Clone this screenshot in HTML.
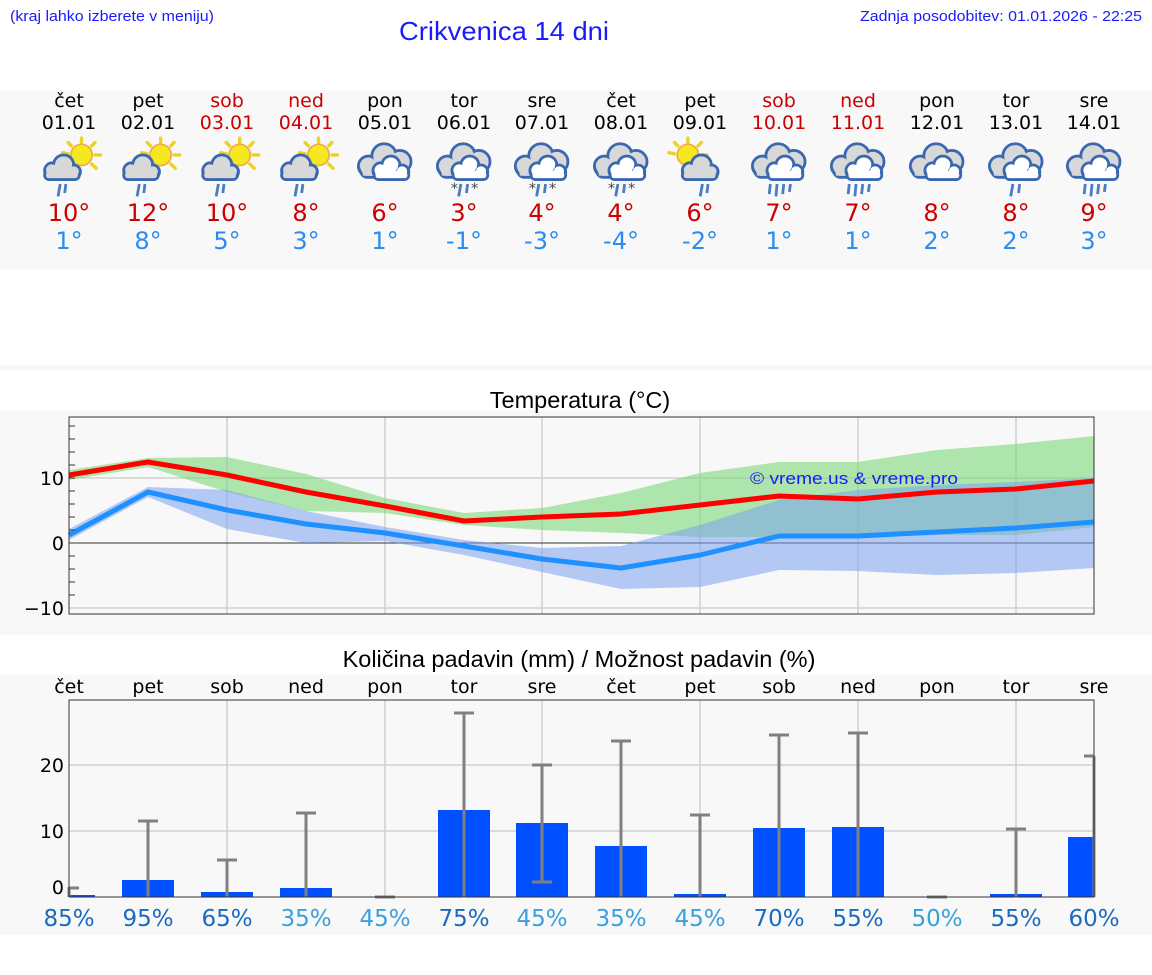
<!DOCTYPE html>
<html><head><meta charset="utf-8"><style>
html,body{margin:0;padding:0;background:#fff;width:1152px;height:975px;overflow:hidden}
svg{display:block}
</style></head><body>
<svg width="1152" height="975" viewBox="0 0 1152 975" xmlns="http://www.w3.org/2000/svg" font-family="'DejaVu Sans', 'Liberation Sans', sans-serif">
<defs>
<g id="sun">
<g stroke="#f0d020" stroke-width="3" stroke-linecap="round">
<line x1="38" y1="1" x2="38" y2="6"/><line x1="50" y1="5" x2="47" y2="8"/><line x1="55" y1="16" x2="50" y2="16"/><line x1="51" y1="28" x2="47" y2="24"/><line x1="26" y1="5" x2="29" y2="8"/><line x1="21" y1="14" x2="26" y2="15"/>
</g>
<circle cx="38" cy="16" r="9.5" fill="#f5e81e" stroke="#f0a850" stroke-width="1.5"/>
</g>
<g id="smallcloud">
<g fill="#d8d8d8" stroke="#3a68b0" stroke-width="2.5">
<circle cx="12" cy="30" r="7"/><circle cx="22" cy="25" r="9"/><circle cx="31" cy="31" r="6"/><rect x="5" y="30" width="31" height="8" rx="4"/>
</g>
<g fill="#d8d8d8"><circle cx="12" cy="30" r="5.5"/><circle cx="22" cy="25" r="7.5"/><circle cx="31" cy="31" r="4.5"/><rect x="7" y="30" width="27" height="6.5"/></g>
</g>
<g id="dcloud">
<g fill="#d8d8d8" stroke="#3a68b0" stroke-width="2.5">
<circle cx="12" cy="26" r="9"/><circle cx="26" cy="17" r="11"/><circle cx="40" cy="22" r="10"/><rect x="5" y="24" width="42" height="12" rx="6"/>
</g>
<g fill="#d8d8d8"><circle cx="12" cy="26" r="7.5"/><circle cx="26" cy="17" r="9.5"/><circle cx="40" cy="22" r="8.5"/><rect x="7" y="25" width="38" height="9.5"/></g>
<g fill="#fff" stroke="#3a68b0" stroke-width="2.5">
<circle cx="23" cy="30" r="7"/><circle cx="32" cy="25" r="8"/><circle cx="42" cy="31" r="6"/><rect x="17" y="30" width="31" height="8" rx="4"/>
</g>
<g fill="#fff"><circle cx="23" cy="30" r="5.5"/><circle cx="32" cy="25" r="6.5"/><circle cx="42" cy="31" r="4.5"/><rect x="19" y="30" width="27" height="6.5"/></g>
</g>
<g id="r2" stroke="#4a7cc4" stroke-width="2.5"><line x1="24" y1="42" x2="22" y2="53"/><line x1="30" y1="42" x2="29" y2="50"/></g>
<g id="r4" stroke="#4a7cc4" stroke-width="2.5"><line x1="19" y1="42" x2="18" y2="51"/><line x1="25" y1="42" x2="24" y2="53"/><line x1="31" y1="42" x2="30" y2="51"/><line x1="37" y1="42" x2="36" y2="49"/></g>
<g id="i_sr"><use href="#sun"/><use href="#smallcloud"/><g stroke="#4a7cc4" stroke-width="2.5"><line x1="19" y1="42" x2="17" y2="53"/><line x1="24" y1="42" x2="23" y2="50"/></g></g>
<g id="i_c"><use href="#dcloud"/></g>
<g id="i_sl"><use href="#dcloud"/><use href="#r2"/><text x="15" y="50" font-size="13" fill="#444">*</text><text x="33" y="50" font-size="13" fill="#444">*</text></g>
<g id="i_r4"><use href="#dcloud"/><use href="#r4"/></g>
<g id="i_r2"><use href="#dcloud"/><use href="#r2"/></g>
<g id="i_sc"><use href="#sun" transform="translate(-22,0)"/><g transform="translate(6,0)"><use href="#smallcloud"/></g><g stroke="#4a7cc4" stroke-width="2.5"><line x1="29" y1="42" x2="27" y2="53"/><line x1="34" y1="42" x2="33" y2="50"/></g></g>
</defs>

<g font-family="'Liberation Sans', sans-serif">
<text x="10" y="21" font-size="15" fill="#1a1aff" textLength="204" lengthAdjust="spacingAndGlyphs">(kraj lahko izberete v meniju)</text>
<text x="399" y="40" font-size="26" fill="#1a1aff" textLength="210" lengthAdjust="spacingAndGlyphs">Crikvenica 14 dni</text>
<text x="1142" y="21" font-size="15" fill="#1a1aff" text-anchor="end" textLength="282" lengthAdjust="spacingAndGlyphs">Zadnja posodobitev: 01.01.2026 - 22:25</text>
</g>

<rect x="0" y="90" width="1152" height="180" fill="#f8f8f8"/>
<rect x="0" y="365" width="1152" height="5" fill="#f8f8f8"/>
<rect x="0" y="410" width="1152" height="225" fill="#f8f8f8"/>
<rect x="0" y="675" width="1152" height="260" fill="#f8f8f8"/>

<g font-size="19" text-anchor="middle">
<g fill="#000">
<text x="69" y="107">čet</text><text x="69" y="129">01.01</text>
<text x="148" y="107">pet</text><text x="148" y="129">02.01</text>
<text x="385" y="107">pon</text><text x="385" y="129">05.01</text>
<text x="464" y="107">tor</text><text x="464" y="129">06.01</text>
<text x="542" y="107">sre</text><text x="542" y="129">07.01</text>
<text x="621" y="107">čet</text><text x="621" y="129">08.01</text>
<text x="700" y="107">pet</text><text x="700" y="129">09.01</text>
<text x="937" y="107">pon</text><text x="937" y="129">12.01</text>
<text x="1016" y="107">tor</text><text x="1016" y="129">13.01</text>
<text x="1094" y="107">sre</text><text x="1094" y="129">14.01</text>
</g>
<g fill="#cc0000">
<text x="227" y="107">sob</text><text x="227" y="129">03.01</text>
<text x="306" y="107">ned</text><text x="306" y="129">04.01</text>
<text x="779" y="107">sob</text><text x="779" y="129">10.01</text>
<text x="858" y="107">ned</text><text x="858" y="129">11.01</text>
</g>
</g>

<g transform="translate(0,137) scale(1.12)">
<use href="#i_sr" x="34.8"/><use href="#i_sr" x="105.4"/><use href="#i_sr" x="176"/><use href="#i_sr" x="246.4"/>
<use href="#i_c" x="317"/><use href="#i_sl" x="387.5"/><use href="#i_sl" x="457.1"/><use href="#i_sl" x="527.7"/>
<use href="#i_sc" x="598.2"/><use href="#i_r4" x="668.8"/><use href="#i_r4" x="739.3"/><use href="#i_c" x="809.8"/>
<use href="#i_r2" x="880.4"/><use href="#i_r4" x="950"/>
</g>

<g font-size="24" text-anchor="middle" fill="#cc0000">
<text x="69" y="221">10°</text><text x="148" y="221">12°</text><text x="227" y="221">10°</text><text x="306" y="221">8°</text><text x="385" y="221">6°</text><text x="464" y="221">3°</text><text x="542" y="221">4°</text><text x="621" y="221">4°</text><text x="700" y="221">6°</text><text x="779" y="221">7°</text><text x="858" y="221">7°</text><text x="937" y="221">8°</text><text x="1016" y="221">8°</text><text x="1094" y="221">9°</text>
</g>
<g font-size="24" text-anchor="middle" fill="#2a8cf0">
<text x="69" y="249">1°</text><text x="148" y="249">8°</text><text x="227" y="249">5°</text><text x="306" y="249">3°</text><text x="385" y="249">1°</text><text x="464" y="249">-1°</text><text x="542" y="249">-3°</text><text x="621" y="249">-4°</text><text x="700" y="249">-2°</text><text x="779" y="249">1°</text><text x="858" y="249">1°</text><text x="937" y="249">2°</text><text x="1016" y="249">2°</text><text x="1094" y="249">3°</text>
</g>

<text x="580" y="408" font-size="23.5" text-anchor="middle" fill="#000" font-family="'Liberation Sans', sans-serif">Temperatura (°C)</text>
<g stroke="#d0d0d0" stroke-width="1.5">
<line x1="227" y1="417" x2="227" y2="614"/><line x1="385" y1="417" x2="385" y2="614"/><line x1="542" y1="417" x2="542" y2="614"/><line x1="700" y1="417" x2="700" y2="614"/><line x1="858" y1="417" x2="858" y2="614"/><line x1="1016" y1="417" x2="1016" y2="614"/>
<line x1="69" y1="478" x2="1094" y2="478"/><line x1="69" y1="608" x2="1094" y2="608"/>
</g>
<line x1="69" y1="543" x2="1094" y2="543" stroke="#333" stroke-width="1"/>
<polygon fill="#7cd87c" fill-opacity="0.6" points="69,470 148,458 227,457 306,474 385,498 464,513 542,508 621,493 700,473 779,462 858,462 937,450 1016,444 1094,436 1094,527 1016,535 937,535 858,537 779,537 700,537 621,533 542,530 464,525 385,513 306,511 227,492 148,467 69,480"/>
<polygon fill="#7aa2ee" fill-opacity="0.55" points="69,529 148,487 227,490 306,511 385,527 464,540 542,548 621,546 700,525 779,500 858,490 937,485 1016,482 1094,478 1094,568 1016,573 937,575 858,571 779,570 700,587 621,589 542,572 464,555 385,541 306,543 227,529 148,497 69,540"/>
<polyline fill="none" stroke="#ff0000" stroke-width="5" stroke-linejoin="round" points="69,475 148,462 227,475 306,492 385,506 464,521 542,517 621,514 700,505 779,496 858,499 937,492 1016,489 1094,481"/>
<polyline fill="none" stroke="#1e90ff" stroke-width="5" stroke-linejoin="round" points="69,535 148,492 227,510 306,524 385,533 464,546 542,559 621,568 700,555 779,536 858,536 937,532 1016,528 1094,522"/>
<text x="750" y="484" font-size="17" fill="#1a1aff" font-family="'Liberation Sans', sans-serif" textLength="208" lengthAdjust="spacingAndGlyphs">© vreme.us &amp; vreme.pro</text>
<rect x="69" y="417" width="1025" height="197" fill="none" stroke="#333" stroke-width="1"/>
<g stroke="#333" stroke-width="1">
<line x1="69" y1="426" x2="75" y2="426"/><line x1="69" y1="439" x2="75" y2="439"/><line x1="69" y1="452" x2="75" y2="452"/><line x1="69" y1="465" x2="75" y2="465"/><line x1="69" y1="478" x2="75" y2="478"/><line x1="69" y1="491" x2="75" y2="491"/><line x1="69" y1="504" x2="75" y2="504"/><line x1="69" y1="517" x2="75" y2="517"/><line x1="69" y1="530" x2="75" y2="530"/><line x1="69" y1="556" x2="75" y2="556"/><line x1="69" y1="569" x2="75" y2="569"/><line x1="69" y1="582" x2="75" y2="582"/><line x1="69" y1="595" x2="75" y2="595"/>
</g>
<g font-size="19" text-anchor="end" fill="#000">
<text x="64" y="485">10</text><text x="64" y="550">0</text><text x="64" y="615">−10</text>
</g>

<text x="579" y="667" font-size="23.5" text-anchor="middle" fill="#000" font-family="'Liberation Sans', sans-serif">Količina padavin (mm) / Možnost padavin (%)</text>
<g font-size="19" text-anchor="middle" fill="#000">
<text x="69" y="693">čet</text><text x="148" y="693">pet</text><text x="227" y="693">sob</text><text x="306" y="693">ned</text><text x="385" y="693">pon</text><text x="464" y="693">tor</text><text x="542" y="693">sre</text><text x="621" y="693">čet</text><text x="700" y="693">pet</text><text x="779" y="693">sob</text><text x="858" y="693">ned</text><text x="937" y="693">pon</text><text x="1016" y="693">tor</text><text x="1094" y="693">sre</text>
</g>
<g stroke="#d0d0d0" stroke-width="1.5">
<line x1="227" y1="700" x2="227" y2="897"/><line x1="385" y1="700" x2="385" y2="897"/><line x1="542" y1="700" x2="542" y2="897"/><line x1="700" y1="700" x2="700" y2="897"/><line x1="858" y1="700" x2="858" y2="897"/><line x1="1016" y1="700" x2="1016" y2="897"/>
<line x1="69" y1="765" x2="1094" y2="765"/><line x1="69" y1="831" x2="1094" y2="831"/>
</g>
<g fill="#0050ff">
<rect x="70" y="895" width="25" height="2"/>
<rect x="122" y="880" width="52" height="17"/>
<rect x="201" y="892" width="52" height="5"/>
<rect x="280" y="888" width="52" height="9"/>
<rect x="438" y="810" width="52" height="87"/>
<rect x="516" y="823" width="52" height="74"/>
<rect x="595" y="846" width="52" height="51"/>
<rect x="674" y="894" width="52" height="3"/>
<rect x="753" y="828" width="52" height="69"/>
<rect x="832" y="827" width="52" height="70"/>
<rect x="990" y="894" width="52" height="3"/>
<rect x="1068" y="837" width="26" height="60"/>
</g>
<g stroke="#808080" stroke-width="3">
<line x1="69" y1="887" x2="69" y2="897"/><line x1="69" y1="888" x2="79" y2="888"/>
<line x1="148" y1="821" x2="148" y2="897"/><line x1="138" y1="821" x2="158" y2="821"/>
<line x1="227" y1="860" x2="227" y2="897"/><line x1="217" y1="860" x2="237" y2="860"/>
<line x1="306" y1="813" x2="306" y2="897"/><line x1="296" y1="813" x2="316" y2="813"/>
<line x1="375" y1="897" x2="395" y2="897"/>
<line x1="464" y1="713" x2="464" y2="897"/><line x1="454" y1="713" x2="474" y2="713"/>
<line x1="542" y1="765" x2="542" y2="882"/><line x1="532" y1="765" x2="552" y2="765"/><line x1="532" y1="882" x2="552" y2="882"/>
<line x1="621" y1="741" x2="621" y2="897"/><line x1="611" y1="741" x2="631" y2="741"/>
<line x1="700" y1="815" x2="700" y2="897"/><line x1="690" y1="815" x2="710" y2="815"/>
<line x1="779" y1="735" x2="779" y2="897"/><line x1="769" y1="735" x2="789" y2="735"/>
<line x1="858" y1="733" x2="858" y2="897"/><line x1="848" y1="733" x2="868" y2="733"/>
<line x1="927" y1="897" x2="947" y2="897"/>
<line x1="1016" y1="829" x2="1016" y2="897"/><line x1="1006" y1="829" x2="1026" y2="829"/>
<line x1="1094" y1="756" x2="1094" y2="897"/><line x1="1084" y1="756" x2="1094" y2="756"/>
</g>
<polyline fill="none" stroke="#333" stroke-width="1" points="69,897 69,700 1094,700 1094,897 69,897"/>
<g font-size="19" text-anchor="end" fill="#000">
<text x="64" y="772">20</text><text x="64" y="838">10</text><text x="64" y="894">0</text>
</g>
<g font-size="23" text-anchor="middle">
<g fill="#1a6bbf"><text x="69" y="926">85%</text><text x="148" y="926">95%</text><text x="227" y="926">65%</text><text x="464" y="926">75%</text><text x="779" y="926">70%</text><text x="858" y="926">55%</text><text x="1016" y="926">55%</text><text x="1094" y="926">60%</text></g>
<g fill="#3aa0dd"><text x="306" y="926">35%</text><text x="385" y="926">45%</text><text x="542" y="926">45%</text><text x="621" y="926">35%</text><text x="700" y="926">45%</text><text x="937" y="926">50%</text></g>
</g>
</svg>
</body></html>
